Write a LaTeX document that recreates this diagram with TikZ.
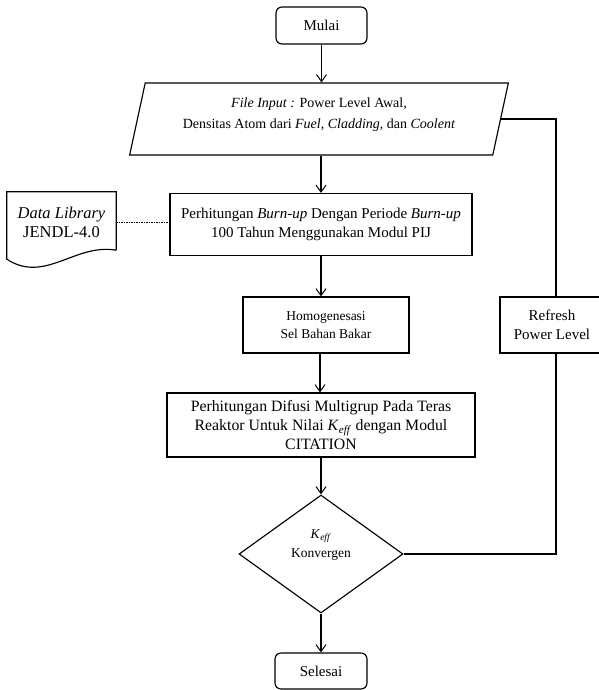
\documentclass[tikz,border=0pt]{standalone}
\usepackage{fontspec}
\setmainfont{Liberation Serif}
\usetikzlibrary{shapes.geometric,arrows.meta,calc}
\begin{document}
\begin{tikzpicture}[x=1pt,y=-1pt,
  every node/.style={inner sep=0pt, align=center},
  box/.style={draw, line width=1.15pt, font=\fontsize{15}{19}\selectfont},
  term/.style={box, rounded corners=6pt},
  conn/.style={line width=1.15pt},
  arr/.style={conn, -{Straight Barb[length=7pt,width=10pt,line width=1pt]}}
]
\useasboundingbox[fill=white] (0,0) rectangle (599,690);

\node[term, minimum width=91pt, minimum height=37pt] (mulai) at (321.5,25.5) {Mulai};

\node[box, trapezium, trapezium left angle=73.7, trapezium right angle=106.3,
      trapezium stretches=true, minimum width=380pt, minimum height=72pt,
      font=\fontsize{14}{21}\selectfont] (inp) at (319,119)
  {\textit{File Input :} Power Level Awal,\\ Densitas Atom dari \textit{Fuel, Cladding,} dan \textit{Coolent}\\[-10pt]};

\node[box, minimum width=302pt, minimum height=62pt] (burn) at (321,224.5)
  {Perhitungan \textit{Burn-up} Dengan Periode \textit{Burn-up}\\ 100 Tahun Menggunakan Modul PIJ};

\node[minimum width=109pt, minimum height=60pt, font=\fontsize{16.5}{19}\selectfont] (lib) at (61.5,222)
  {\textit{Data Library}\\ JENDL-4.0};
\draw[conn] ($(lib.south east)+(0,-2)$) -- (lib.north east) -- (lib.north west) -- ($(lib.south west)+(0,7)$)
  .. controls (45,284) and (75,243) .. ($(lib.south east)+(0,-2)$);

\node[box, minimum width=166pt, minimum height=56pt, font=\fontsize{13.5}{18}\selectfont] (homog) at (326,325)
  {Homogenesasi\\ Sel Bahan Bakar};

\node[box, minimum width=112pt, minimum height=56pt] (refresh) at (556,325)
  {\hspace*{-8pt}Refresh\\ \hspace*{-8pt}Power Level};

\node[box, minimum width=308pt, minimum height=64pt, font=\fontsize{15.8}{19}\selectfont] (cit) at (321,425)
  {Perhitungan Difusi Multigrup Pada Teras\\ Reaktor Untuk Nilai \textit{K}\textsubscript{\textit{eff}} dengan Modul\\ CITATION};

\node[box, diamond, aspect=1.39, minimum width=164pt, minimum height=118pt,
      font=\fontsize{13.5}{19}\selectfont] (dia) at (321,554)
  {\textit{K}\textsubscript{\textit{eff}}\\ Konvergen\\[2pt]};

\node[term, minimum width=92pt, minimum height=36pt] (selesai) at (321,671) {Selesai};

\draw[arr] (mulai.south) -- (mulai.south |- inp.north);
\draw[arr] (inp.south -| burn.north) -- (burn.north);
\draw[arr] (burn.south) -- (burn.south |- homog.north);
\draw[arr] ($(homog.south)+(-6,0)$) -- ($(cit.north)+(-1,0)$);
\draw[arr] (cit.south) -- (dia.north);
\draw[arr] (dia.south) -- (selesai.north);

\draw[conn] (dia.east) -| (refresh.south);
\draw[conn] (refresh.north) |- (inp.east);

\draw[line width=0.8pt, dash pattern=on 1.5pt off 1pt] (lib.east) -- (lib.east -| burn.west);
\end{tikzpicture}
\end{document}
